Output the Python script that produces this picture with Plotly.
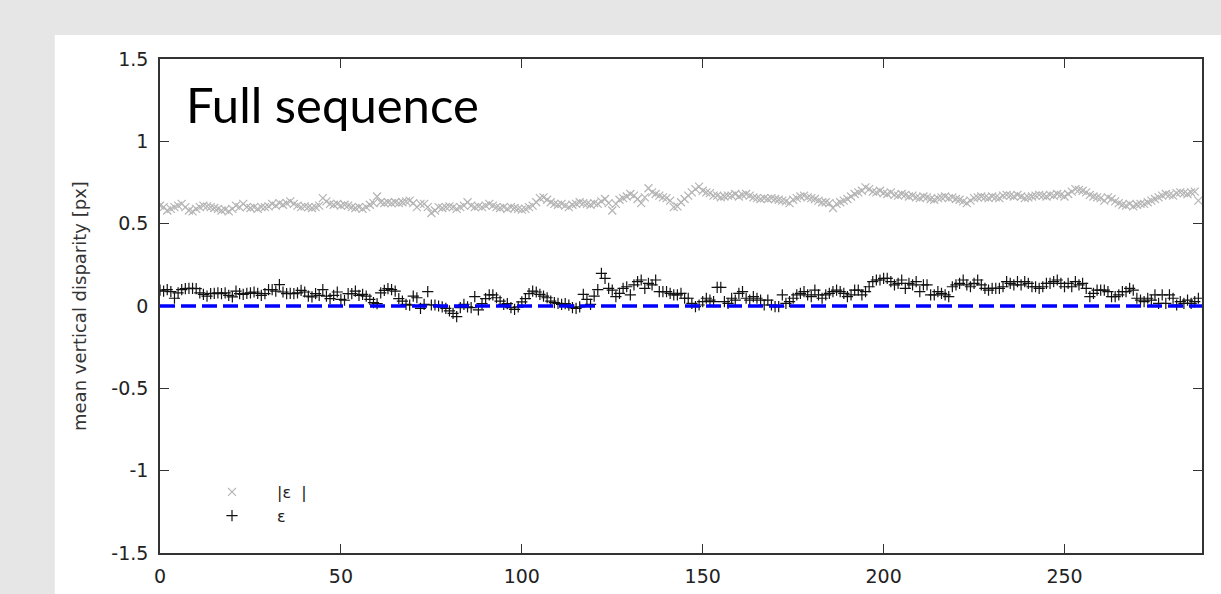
import plotly.graph_objects as go

# ---- data ----
eps = [
    0.097, 0.09, 0.1, 0.087, 0.047, 0.08, 0.1, 0.105, 0.107, 0.107,
    0.105, 0.08, 0.07, 0.06, 0.075, 0.077, 0.08, 0.075, 0.08, 0.065,
    0.055, 0.09, 0.075, 0.07, 0.077, 0.08, 0.085, 0.077, 0.065, 0.075,
    0.1, 0.1, 0.09, 0.13, 0.085, 0.075, 0.077, 0.075, 0.08, 0.095,
    0.085, 0.06, 0.055, 0.075, 0.065, 0.1, 0.06, 0.045, 0.065, 0.085,
    0.04, 0.035, 0.075, 0.075, 0.09, 0.065, 0.07, 0.06, 0.04, 0.02,
    0.015, 0.08, 0.095, 0.105, 0.1, 0.09, 0.045, 0.03, 0.01, 0.005,
    0.06, 0.05, -0.014, 0.01, 0.087, 0.006, 0.006, 0.0, -0.005, -0.015,
    -0.03, -0.045, -0.065, -0.01, 0.01, -0.005, -0.01, 0.057, -0.024, 0.015,
    0.045, 0.067, 0.067, 0.05, 0.03, 0.01, 0.015, -0.01, -0.02, -0.005,
    0.025, 0.045, 0.075, 0.09, 0.085, 0.07, 0.06, 0.05, 0.03, 0.02,
    0.016, 0.01, 0.015, 0.005, -0.01, -0.014, -0.005, 0.07, 0.04, 0.01,
    0.06, 0.1, 0.198, 0.168, 0.107, 0.097, 0.057, 0.077, 0.107, 0.117,
    0.067, 0.128, 0.148, 0.158, 0.107, 0.138, 0.128, 0.158, 0.087, 0.087,
    0.087, 0.077, 0.067, 0.067, 0.077, 0.047, 0.047, 0.016, -0.004, 0.006,
    0.026, 0.047, 0.036, 0.026, 0.113, 0.113, 0.026, 0.016, 0.047, 0.036,
    0.077, 0.087, 0.047, 0.036, 0.057, 0.047, 0.036, 0.006, 0.036, 0.006,
    -0.004, -0.004, 0.067, 0.016, 0.026, 0.047, 0.067, 0.077, 0.087, 0.067,
    0.057, 0.097, 0.067, 0.047, 0.067, 0.077, 0.087, 0.097, 0.087, 0.077,
    0.057, 0.067, 0.097, 0.097, 0.067, 0.087, 0.117, 0.148, 0.158, 0.158,
    0.168, 0.168, 0.148, 0.128, 0.138, 0.158, 0.107, 0.138, 0.128, 0.148,
    0.087, 0.128, 0.128, 0.067, 0.067, 0.087, 0.077, 0.067, 0.057, 0.117,
    0.128, 0.138, 0.158, 0.128, 0.117, 0.138, 0.158, 0.128, 0.107, 0.097,
    0.107, 0.107, 0.107, 0.117, 0.148, 0.138, 0.128, 0.148, 0.128, 0.148,
    0.138, 0.117, 0.117, 0.107, 0.117, 0.138, 0.138, 0.148, 0.158, 0.138,
    0.117, 0.138, 0.117, 0.148, 0.128, 0.138, 0.107, 0.057, 0.077, 0.097,
    0.097, 0.097, 0.087, 0.057, 0.057, 0.067, 0.087, 0.087, 0.107, 0.097,
    0.047, 0.036, 0.026, 0.047, 0.036, 0.067, 0.016, 0.067, 0.016, 0.067,
    0.047, 0.006, 0.026, 0.016, 0.036, 0.016, 0.026, 0.047,
]

abs_eps = [
    0.61, 0.6, 0.58, 0.59, 0.6, 0.61, 0.62, 0.6, 0.58, 0.575,
    0.59, 0.6, 0.61, 0.605, 0.6, 0.595, 0.59, 0.58, 0.585, 0.575,
    0.59, 0.61, 0.6, 0.62, 0.6, 0.595, 0.6, 0.59, 0.6, 0.6,
    0.605, 0.62, 0.61, 0.625, 0.615, 0.625, 0.635, 0.62, 0.61, 0.6,
    0.605, 0.6, 0.595, 0.6, 0.61, 0.655, 0.635, 0.62, 0.615, 0.62,
    0.61, 0.615, 0.61, 0.6, 0.595, 0.6, 0.59, 0.6, 0.615, 0.625,
    0.665, 0.63, 0.625, 0.63, 0.625, 0.63, 0.625, 0.63, 0.635, 0.64,
    0.625, 0.6, 0.62, 0.62, 0.6, 0.565, 0.58, 0.6, 0.595, 0.6,
    0.605, 0.6, 0.59, 0.6, 0.61, 0.63, 0.61, 0.6, 0.605, 0.6,
    0.61, 0.62, 0.61, 0.6, 0.595, 0.6, 0.59, 0.6, 0.595, 0.59,
    0.585, 0.59, 0.6, 0.61, 0.63, 0.655, 0.66, 0.645, 0.63, 0.62,
    0.615, 0.62, 0.61, 0.6, 0.615, 0.62, 0.63, 0.625, 0.62, 0.615,
    0.625, 0.62, 0.635, 0.65, 0.625, 0.58, 0.62, 0.645, 0.655, 0.665,
    0.68, 0.67, 0.65, 0.625, 0.66, 0.715, 0.69, 0.68, 0.67, 0.66,
    0.655, 0.64, 0.6, 0.605, 0.63, 0.65, 0.67, 0.69, 0.71, 0.725,
    0.7, 0.69, 0.685, 0.67, 0.67, 0.66, 0.665, 0.67, 0.67, 0.68,
    0.665, 0.675, 0.68, 0.67, 0.66, 0.655, 0.65, 0.655, 0.65, 0.655,
    0.65, 0.645, 0.64, 0.635, 0.625, 0.645, 0.655, 0.665, 0.67, 0.66,
    0.655, 0.65, 0.64, 0.63, 0.63, 0.625, 0.595, 0.62, 0.63, 0.64,
    0.65, 0.665, 0.68, 0.69, 0.7, 0.72, 0.71, 0.695, 0.69, 0.7,
    0.685, 0.68, 0.69, 0.675, 0.67, 0.68, 0.675, 0.665, 0.67, 0.66,
    0.655, 0.665, 0.66, 0.65, 0.645, 0.655, 0.66, 0.665, 0.655, 0.66,
    0.65, 0.645, 0.635, 0.625, 0.64, 0.655, 0.66, 0.665, 0.66, 0.655,
    0.665, 0.66, 0.655, 0.67, 0.675, 0.67, 0.665, 0.675, 0.665, 0.655,
    0.66, 0.665, 0.67, 0.675, 0.67, 0.665, 0.675, 0.67, 0.68, 0.675,
    0.665, 0.68, 0.695, 0.71, 0.705, 0.7, 0.69, 0.675, 0.665, 0.66,
    0.655, 0.64, 0.66, 0.65, 0.635, 0.625, 0.615, 0.61, 0.62, 0.605,
    0.615, 0.62, 0.62, 0.63, 0.64, 0.65, 0.66, 0.67, 0.68, 0.675,
    0.67, 0.685, 0.69, 0.685, 0.68, 0.69, 0.695, 0.64,
]

frames_abs = list(range(len(abs_eps)))
frames_eps = list(range(len(eps)))

x_ticks = [0, 50, 100, 150, 200, 250]
y_ticks = [-1.5, -1, -0.5, 0, 0.5, 1, 1.5]
y_tick_text = ["-1.5", "-1", "-0.5", "0", "0.5", "1", "1.5"]

TICK_FONT = dict(family="DejaVu Sans", size=19, color="#222222")
AXIS_COLOR = "#333333"

fig = go.Figure()

fig.add_trace(go.Scatter(
    x=frames_abs, y=abs_eps, mode="markers", name="|ε  |",
    marker=dict(symbol="x-thin", size=8, line=dict(width=1.2, color="#b4b4b4"),
                color="#b4b4b4"),
))
fig.add_trace(go.Scatter(
    x=frames_eps, y=eps, mode="markers", name="ε",
    marker=dict(symbol="cross-thin", size=8, line=dict(width=1.2, color="#111111"),
                color="#111111"),
))

# white panel behind the chart
fig.add_shape(type="rect", xref="paper", yref="paper",
              x0=-0.101, x1=1.2, y0=-0.3, y1=1.0486,
              fillcolor="white", line=dict(width=0), layer="below")

# zero reference line
fig.add_shape(type="line", xref="x domain", yref="y", x0=0, x1=1, y0=0, y1=0,
              line=dict(color="#0000ff", width=3.5, dash="15px,6px"))

# title
fig.add_annotation(text="Full sequence", xref="paper", yref="paper",
                   x=(184 - 160) / 1042, y=(553 - 104) / 494,
                   xanchor="left", yanchor="middle", showarrow=False,
                   font=dict(family="Lato", size=49, color="black"))

# y-axis title
fig.add_annotation(text="mean vertical disparity [px]", xref="paper", yref="paper",
                   x=(79 - 160) / 1042, y=(553 - 306) / 494,
                   xanchor="center", yanchor="middle", textangle=-90, showarrow=False,
                   font=dict(family="DejaVu Sans", size=18, color="#333333"))

fig.update_xaxes(range=[0, 288], tickvals=x_ticks, ticks="inside", ticklen=9,
                 tickcolor=AXIS_COLOR, showline=True, linecolor=AXIS_COLOR, linewidth=1.5,
                 mirror="ticks", showgrid=False, zeroline=False, tickfont=TICK_FONT,
                 ticklabelstandoff=5, automargin=False)
fig.update_yaxes(range=[-1.5, 1.5], tickvals=y_ticks, ticktext=y_tick_text, ticks="inside",
                 ticklen=9, tickcolor=AXIS_COLOR, showline=True, linecolor=AXIS_COLOR,
                 linewidth=1.5, mirror="ticks", showgrid=False, zeroline=False,
                 tickfont=TICK_FONT, ticklabelstandoff=6, automargin=False)

fig.update_layout(
    width=1221, height=594,
    margin=dict(l=160, r=19, t=59, b=41, autoexpand=False),
    paper_bgcolor="#e6e6e6", plot_bgcolor="white",
    showlegend=True,
    legend=dict(x=(187 - 160) / 1042, y=(553 - 475) / 494, xanchor="left", yanchor="top",
                bgcolor="rgba(0,0,0,0)", borderwidth=0, itemwidth=80,
                font=dict(family="DejaVu Sans", size=16, color="#222222"),
                tracegroupgap=0),
)

fig.write_html("out.html", config={"displayModeBar": False},
               post_script="document.body.style.margin='0';document.body.style.padding='0';"
                           "document.body.style.overflow='hidden';")
